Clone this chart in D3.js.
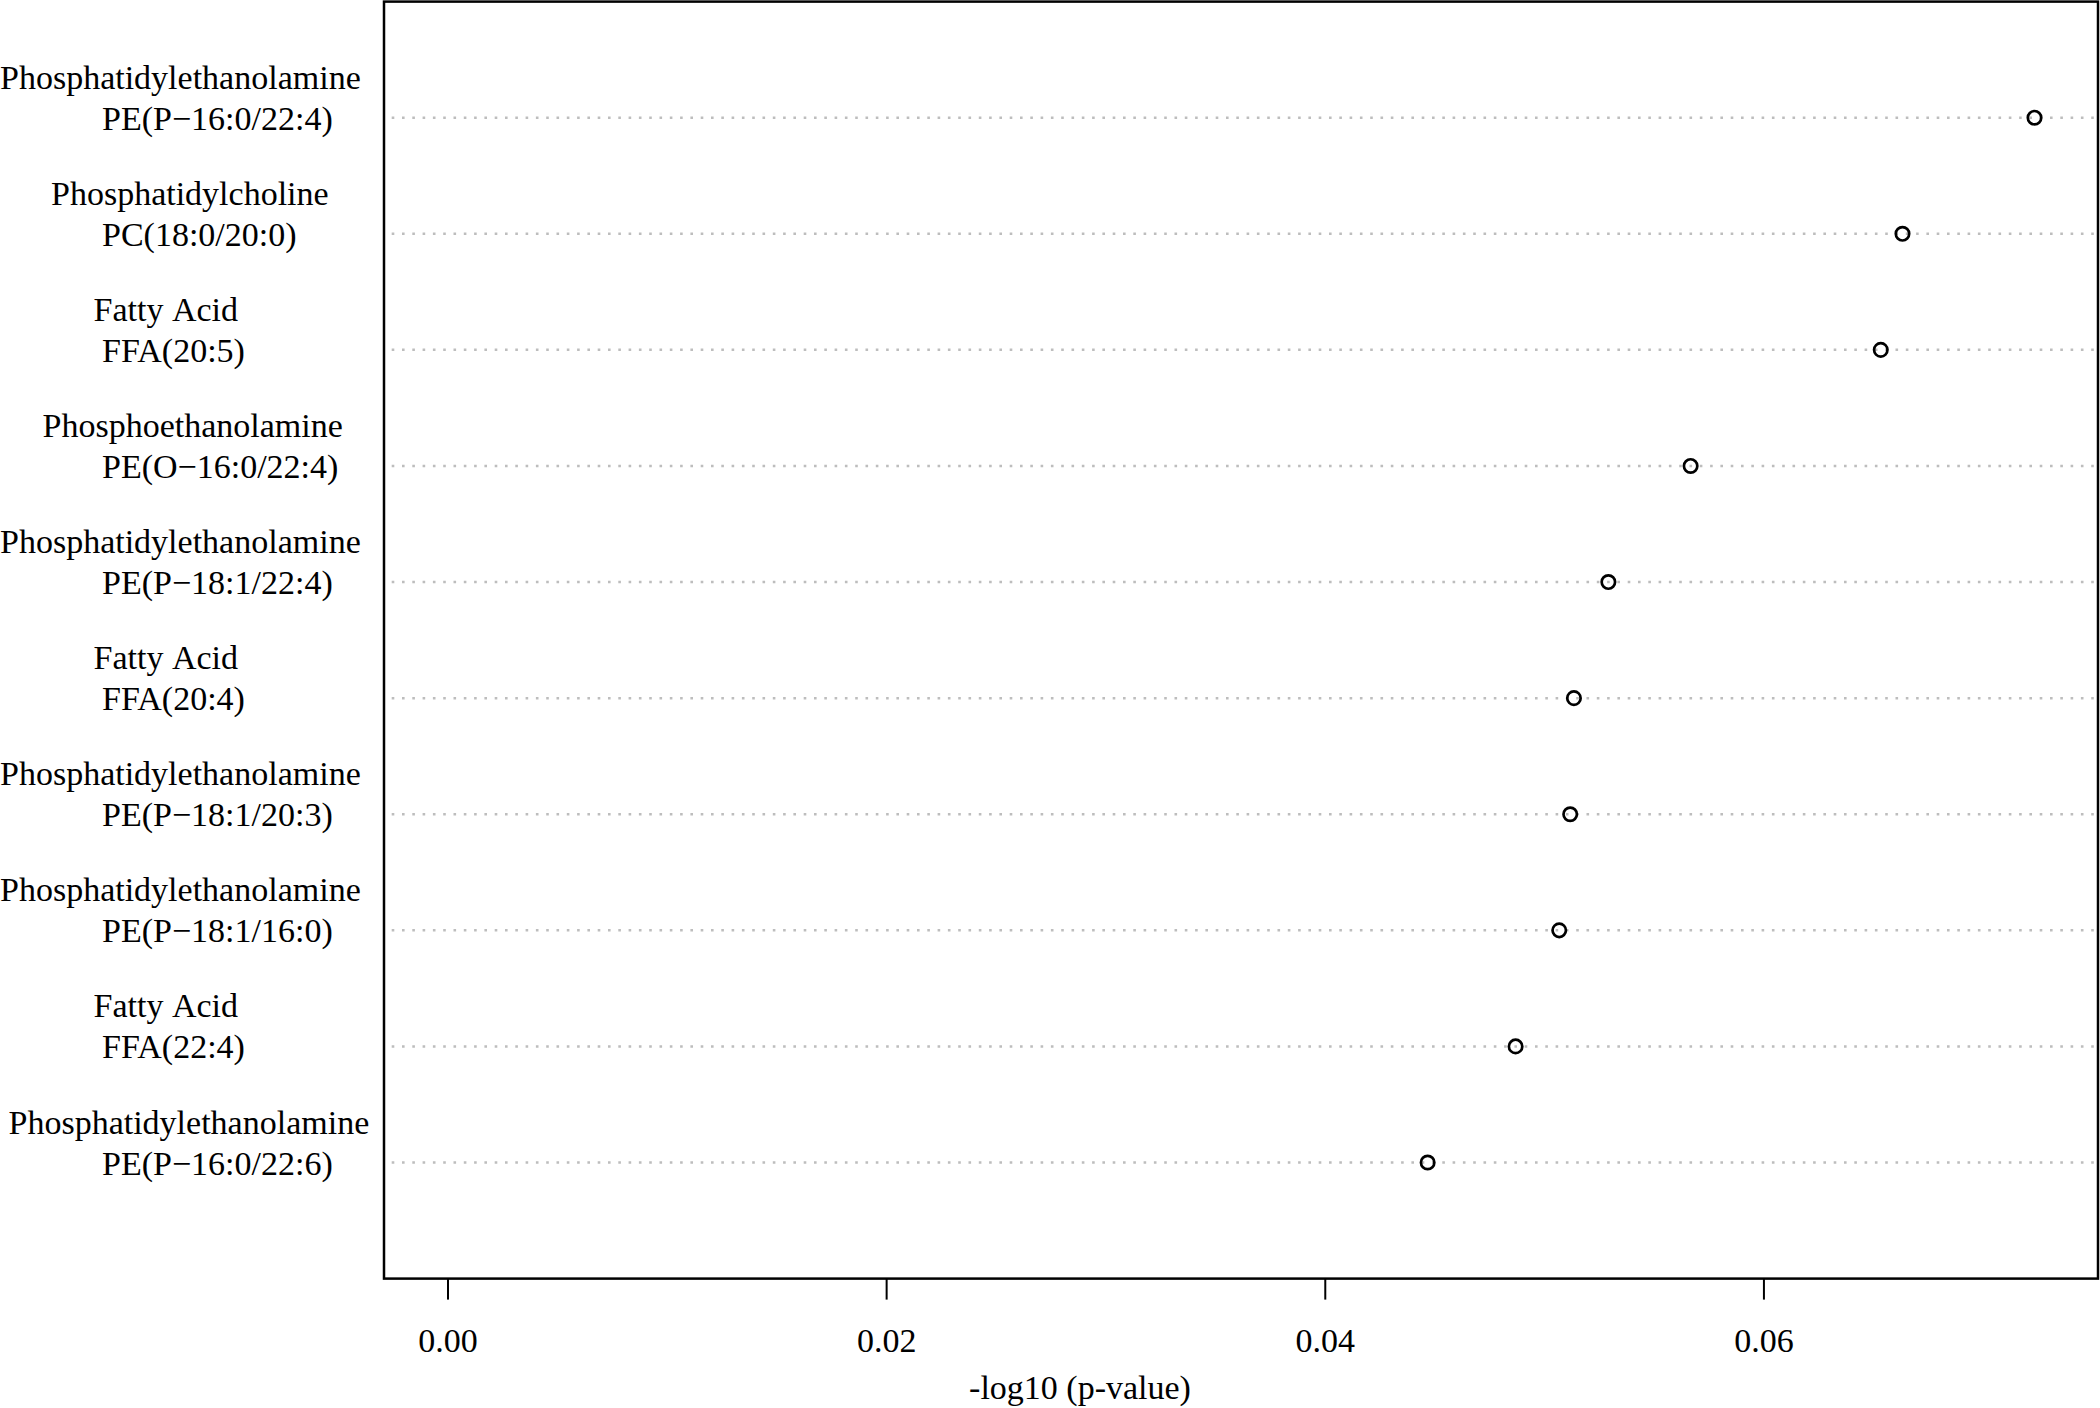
<!DOCTYPE html>
<html>
<head>
<meta charset="utf-8">
<script src="https://cdn.jsdelivr.net/npm/d3@7"></script>
<style>
	body { margin: 0; background: #fff; }
	text { font-family: "Liberation Serif", "Times New Roman", serif; fill: #000; }
</style>
</head>
<body>
<script>

/* dotchart of -log10(p) for the top lipids */

// lipid class (first label line), padded like the original strings
var classNames = [
	"Phosphatidylethanolamine",
	"      Phosphatidylcholine",
	"           Fatty Acid",
	"     Phosphoethanolamine",
	"Phosphatidylethanolamine",
	"           Fatty Acid",
	"Phosphatidylethanolamine",
	"Phosphatidylethanolamine",
	"           Fatty Acid",
	" Phosphatidylethanolamine"
];

// lipid species (second label line)
var lipidNames = [
	"            PE(P\u221216:0/22:4)",
	"            PC(18:0/20:0)",
	"            FFA(20:5)",
	"            PE(O\u221216:0/22:4)",
	"            PE(P\u221218:1/22:4)",
	"            FFA(20:4)",
	"            PE(P\u221218:1/20:3)",
	"            PE(P\u221218:1/16:0)",
	"            FFA(22:4)",
	"            PE(P\u221216:0/22:6)"
];

// -log10 (p-value), top to bottom
var logP = [0.07236, 0.06634, 0.06535, 0.05668, 0.05293, 0.05136, 0.05119, 0.05069, 0.04870, 0.04469];

var xTicks = [0.00, 0.02, 0.04, 0.06];
var xTitle = "-log10 (p-value)";


const width = 2100;
const height = 1408;
const fontSize = 34;

var box = { left: 384, right: 2098, top: 1.6, bottom: 1278.6 };

var svg = d3.select('body')
	.append('svg')
	.attr('width', width)
	.attr('height', height);

svg.append('rect')
	.attr('width', width)
	.attr('height', height)
	.attr('fill', '#fff');

// R-style 4% padding on the x range, starting from zero
var maxV = d3.max(logP);
var xScale = d3.scaleLinear()
	.domain([-0.04 * maxV, maxV * 1.04])
	.range([box.left, box.right]);

var n = logP.length;
var yScale = d3.scaleLinear()
	.domain([0, n + 1])
	.range([box.bottom, box.top]);

var rowY = (d, i) => yScale(n - i);

// keep the padding: svg collapses plain spaces
var keepSpaces = s => s.replace(/ /g, '\u00A0');

// dotted guide lines
svg.append('g').selectAll('line')
	.data(logP)
	.enter()
	.append('line')
	.attr('x1', box.left)
	.attr('x2', box.right)
	.attr('y1', rowY)
	.attr('y2', rowY)
	.attr('stroke', '#bdbdbd')
	.attr('stroke-width', 2.5)
	.attr('stroke-dasharray', '2.6 7.7')
	.attr('stroke-dashoffset', 2.6);

// open circles
svg.append('g').selectAll('circle')
	.data(logP)
	.enter()
	.append('circle')
	.attr('cx', d => xScale(d))
	.attr('cy', rowY)
	.attr('r', 6.7)
	.attr('fill', 'none')
	.attr('stroke', '#000')
	.attr('stroke-width', 2.7);

// frame
svg.append('rect')
	.attr('x', box.left)
	.attr('y', box.top)
	.attr('width', box.right - box.left)
	.attr('height', box.bottom - box.top)
	.attr('fill', 'none')
	.attr('stroke', '#000')
	.attr('stroke-width', 2.5);

// x-axis
var xAxis = d3.axisBottom(xScale)
	.tickValues(xTicks)
	.tickFormat(d3.format('.2f'))
	.tickSize(21);

var xAxisGroup = svg.append('g')
	.attr('transform', `translate(0,${box.bottom})`)
	.call(xAxis);

xAxisGroup.select('.domain').remove();
xAxisGroup.selectAll('.tick line')
	.attr('stroke', '#000')
	.attr('stroke-width', 2);
xAxisGroup.selectAll('.tick text')
	.attr('y', 73)
	.attr('dy', null)
	.attr('font-size', fontSize)
	.attr('font-family', '"Liberation Serif", serif')
	.attr('fill', '#000');

svg.append('text')
	.attr('x', 1080)
	.attr('y', 1399)
	.attr('text-anchor', 'middle')
	.attr('font-size', fontSize)
	.text(xTitle);

// two-line row labels, left aligned in the margin
var labels = svg.append('g')
	.attr('font-size', fontSize);

labels.selectAll('text.cls')
	.data(classNames)
	.enter()
	.append('text')
	.classed('cls', true)
	.attr('x', 0)
	.attr('y', (d, i) => rowY(d, i) - 29)
	.text(d => keepSpaces(d));

labels.selectAll('text.lip')
	.data(lipidNames)
	.enter()
	.append('text')
	.classed('lip', true)
	.attr('x', 0)
	.attr('y', (d, i) => rowY(d, i) + 12)
	.text(d => keepSpaces(d));

</script>
</body>
</html>
